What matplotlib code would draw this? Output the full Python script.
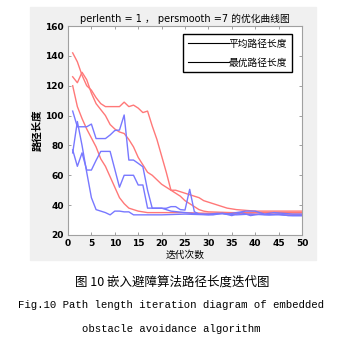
import matplotlib.pyplot as plt
from matplotlib.lines import Line2D
from matplotlib.patches import Rectangle

# iterations and path lengths
red_a_x = [1, 2, 3, 4, 5, 6, 7, 8, 9, 10, 11, 12, 13, 14, 15, 16, 17, 18, 19, 20, 21, 22, 23, 24, 25,
           26, 27, 28, 29, 30, 32, 34, 36, 38, 40, 45, 50]
red_a_y = [142, 136, 127, 120, 117, 112, 108, 106, 106, 106, 106, 109, 106, 107, 105, 102, 103, 93, 84,
           73, 62, 50, 50, 49, 48, 47, 46, 45, 43, 42, 40, 38, 37, 36.5, 36, 36, 36]

red_b_x = [1, 2, 3, 4, 5, 6, 7, 8, 9, 10, 11, 12, 13, 14, 15, 16, 17, 18, 19, 20, 21, 22, 23, 24, 25,
           26, 27, 28, 29, 30, 35, 40, 45, 50]
red_b_y = [126, 122, 129, 124, 115, 108, 104, 100, 94, 91, 89, 88, 84, 79, 72, 67, 62, 60, 57, 54, 52,
           50, 48, 46, 43, 41, 39, 37, 36, 35.5, 35, 35, 35, 35]

red_c_x = [1, 2, 3, 4, 5, 6, 7, 8, 9, 10, 11, 12, 13, 14, 15, 16, 17, 20, 25, 30, 35, 40, 45, 50]
red_c_y = [120, 106, 98, 91, 85, 79, 71, 66, 59, 52, 45, 41, 38, 37, 36, 35.5, 35, 35, 35, 34.5, 34.5,
           34, 34, 34]

blue_a_x = [1, 2, 3, 4, 5, 6, 7, 8, 9, 10, 11, 12, 13, 14, 15, 16, 17, 18, 19, 20, 21, 22, 23, 24, 25,
            26, 27, 28, 30, 32, 34, 36, 38, 40, 42, 44, 46, 48, 50]
blue_a_y = [103, 92.5, 92.5, 92.5, 94.3, 84.6, 84.6, 84.6, 87, 90, 90.3, 100.4, 70.2, 70.2, 68, 65.7,
            50, 37.9, 37.9, 37.9, 37.9, 39, 39, 37, 36.7, 50.6, 35.6, 34, 34, 34.5, 34, 35, 36, 36,
            34, 35, 34.5, 34, 34]

blue_b_x = [1, 2, 3, 4, 5, 6, 7, 8, 9, 10, 11, 12, 13, 14, 15, 16, 17, 18, 20, 22, 25, 28, 31, 33, 35,
            37, 39, 41, 43, 45, 47, 50]
blue_b_y = [77, 66, 75, 63.5, 63.5, 70, 76, 76, 76, 64, 52, 60, 60, 60, 53.5, 53.5, 38, 38, 38, 36,
            35, 34, 33.5, 34.5, 33, 35, 33, 34, 33.5, 34, 33, 33]

blue_c_x = [1, 2, 3, 4, 5, 6, 7, 8, 9, 10, 11, 12, 13, 14, 16, 20, 25, 30, 33, 36, 39, 42, 45, 48, 50]
blue_c_y = [75, 96, 80, 62, 45, 37, 36, 35, 33.5, 36, 36, 35.5, 35.5, 33.5, 33.5, 33.5, 34, 33.5,
            34.5, 33.5, 34, 33.5, 33.5, 33, 33]

x_ticks = [0, 5, 10, 15, 20, 25, 30, 35, 40, 45, 50]
y_ticks = [20, 40, 60, 80, 100, 120, 140, 160]

red = (1.0, 0.47, 0.47)
blue = (0.47, 0.47, 1.0)
cjk = ['DejaVu Sans', 'Noto Sans CJK SC']

fig = plt.figure(figsize=(3.39, 3.43), dpi=100)
fig.patches.append(Rectangle((30 / 339, 1 - 260 / 343), 286 / 339, 253 / 343,
                             transform=fig.transFigure, color='#f0f0f0', zorder=-10))

ax = fig.add_axes([68 / 339, 1 - 235 / 343, 234 / 339, 209 / 343])
ax.set_zorder(5)
for xs, ys in [(red_a_x, red_a_y), (red_b_x, red_b_y), (red_c_x, red_c_y)]:
    ax.plot(xs, ys, color=red, lw=1)
for xs, ys in [(blue_a_x, blue_a_y), (blue_b_x, blue_b_y), (blue_c_x, blue_c_y)]:
    ax.plot(xs, ys, color=blue, lw=1)

ax.set_xlim(0, 50)
ax.set_ylim(20, 160)
ax.set_xticks(x_ticks)
ax.set_yticks(y_ticks)
ax.tick_params(direction='in', length=2, width=0.6, colors='#909090', labelcolor='black',
               labelsize=6.5, top=True, right=True, pad=3)
for lab in ax.get_xticklabels() + ax.get_yticklabels():
    lab.set_fontweight('bold')
for s in ax.spines.values():
    s.set_color('#a0a0a0')

ax.set_title('perlenth = 1 ， persmooth =7 的优化曲线图', fontsize=7, family=cjk, pad=3)
ax.set_xlabel('迭代次数', fontsize=7, family=cjk, labelpad=1)
ax.set_ylabel('路径长度', fontsize=7.5, family=cjk, labelpad=2, fontweight='bold')

handles = [Line2D([], [], color='k', lw=0.8), Line2D([], [], color='k', lw=0.8)]
leg = ax.legend(handles, ['平均路径长度', '最优路径长度'], loc='upper right',
                bbox_to_anchor=(0.957, 0.962), borderaxespad=0, fancybox=False,
                edgecolor='k', framealpha=1, handlelength=4.2, handletextpad=0,
                labelspacing=0.9, borderpad=0.5, prop={'family': cjk, 'size': 7})
leg.get_frame().set_linewidth(1)

fig.text(172 / 339, 1 - 282 / 343, '图 10 嵌入避障算法路径长度迭代图', ha='center', va='center',
         fontsize=9, family=['Noto Sans CJK SC'])
fig.text(171 / 339, 1 - 305 / 343, 'Fig.10 Path length iteration diagram of embedded',
         ha='center', va='center', fontsize=7.7, family='Liberation Mono')
fig.text(171 / 339, 1 - 329 / 343, 'obstacle avoidance algorithm',
         ha='center', va='center', fontsize=7.7, family='Liberation Mono')

fig.savefig('out.png', dpi=100)
